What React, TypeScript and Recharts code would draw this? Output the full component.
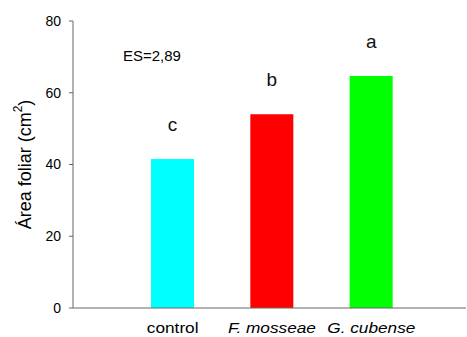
import { BarChart, Bar, XAxis, YAxis, Cell, LabelList, Label } from "recharts";

const categories = ["control", "F. mosseae", "G. cubense"];
const italicCats = ["F. mosseae", "G. cubense"];
const areaValues = [41.5, 54.0, 64.7];
const letters = ["c", "b", "a"];
const barColors = ["#00ffff", "#ff0000", "#00ff00"];
const yTicks = [0, 20, 40, 60, 80];

const data = categories.map((name, i) => ({
  name,
  value: areaValues[i],
  letter: letters[i],
}));

const FONT = "'Liberation Sans', Arial, sans-serif";

function CatTick({ x, y, payload }: any) {
  const italic = italicCats.includes(payload.value);
  return (
    <text
      transform={`translate(${x}, ${y + 25}) scale(1.15, 1)`}
      textAnchor="middle"
      fontSize={15}
      fontFamily={FONT}
      fontStyle={italic ? "italic" : "normal"}
      fill="#000"
    >
      {payload.value}
    </text>
  );
}

function YTitle({ viewBox }: any) {
  const cx = 25;
  const cy = viewBox.y + viewBox.height / 2;
  return (
    <text
      x={cx}
      y={cy}
      transform={`rotate(-90, ${cx}, ${cy})`}
      textAnchor="middle"
      dominantBaseline="central"
      fontSize={18}
      fontFamily={FONT}
      fill="#000"
    >
      Área foliar (cm
      <tspan dy={-7} fontSize={12}>2</tspan>
      <tspan dy={7}>)</tspan>
    </text>
  );
}

export default function App() {
  return (
    <div style={{ position: "absolute", left: 0, top: 0, width: 467, height: 337, background: "#fff" }}>
      <BarChart
        width={467}
        height={337}
        data={data}
        margin={{ top: 21, right: 1, bottom: 0, left: 0 }}
      >
        <XAxis
          dataKey="name"
          height={29}
          stroke="#666"
          tickLine={false}
          tickSize={0}
          tickMargin={0}
          padding={{ left: 50, right: 45 }}
          tick={<CatTick />}
          interval={0}
        />
        <YAxis
          width={73}
          domain={[0, 80]}
          ticks={yTicks}
          stroke="#666"
          tickSize={4}
          tickMargin={8}
          tick={{ fill: "#000", fontSize: 14, fontFamily: FONT }}
        >
          <Label content={<YTitle />} />
        </YAxis>
        <Bar dataKey="value" barSize={43} isAnimationActive={false}>
          {data.map((d, i) => (
            <Cell key={d.name} fill={barColors[i]} />
          ))}
          <LabelList
            dataKey="letter"
            position="top"
            offset={28}
            fontSize={19}
            fontFamily={FONT}
            fill="#111"
          />
        </Bar>
      </BarChart>
      <svg
        width={467}
        height={337}
        style={{ position: "absolute", left: 0, top: 0, pointerEvents: "none" }}
      >
        <text x={123} y={61} fontSize={15} fontFamily={FONT} fill="#000">
          ES=2,89
        </text>
      </svg>
    </div>
  );
}
